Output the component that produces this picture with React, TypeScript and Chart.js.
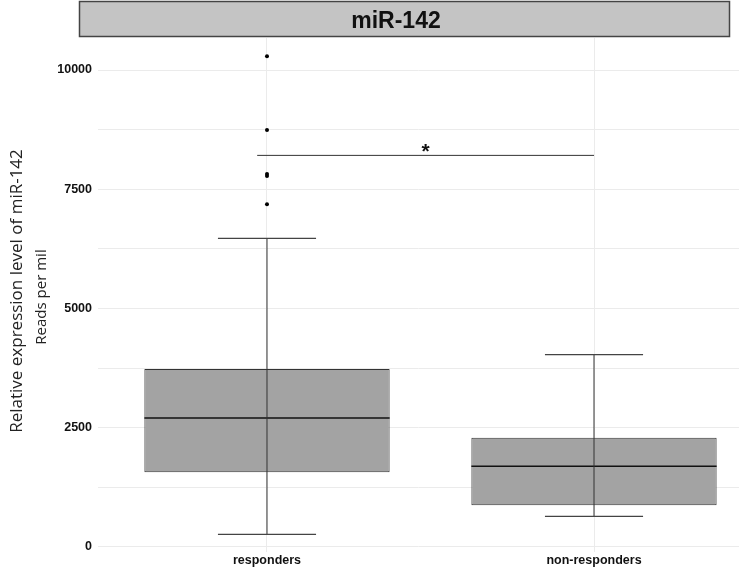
import React, { useEffect, useRef } from "react";
import { Chart, registerables } from "chart.js";

Chart.register(...registerables);

// ---- data ----
const categories = ["responders", "non-responders"];
const whiskerLow = [266, 643];
const q1 = [1566, 874];
const median = [2704, 1691];
const q3 = [3731, 2291];
const whiskerHigh = [6470, 4031];
const outliersResponders = [10291, 8740, 7818, 7776, 7183];
const outliersNonResponders: number[] = [];
const yTickValues = [0, 1250, 2500, 3750, 5000, 6250, 7500, 8750, 10000];
const yLabelStep = 2500;
const sigBarY = 8210;
const sigFrom = -0.03;
const sigTo = 1.0;
const sigLabel = "*";
const panelTitle = "miR-142";
const yTitle = "Relative expression level of miR-142";
const ySubTitle = "Reads per mil";

const extrasPlugin = {
  id: "boxExtras",
  beforeDraw(chart: any) {
    const ctx = chart.ctx;
    ctx.save();
    // facet strip
    ctx.fillStyle = "#c4c4c4";
    ctx.fillRect(79.5, 1.5, 650, 35);
    ctx.strokeStyle = "#444";
    ctx.lineWidth = 1.5;
    ctx.strokeRect(79.5, 1.5, 650, 35);
    ctx.fillStyle = "#111";
    ctx.font = "bold 23px 'Liberation Sans', Arial, sans-serif";
    ctx.textAlign = "center";
    ctx.textBaseline = "alphabetic";
    ctx.fillText(panelTitle, 396, 28);
    // y titles
    ctx.fillStyle = "#222";
    ctx.translate(17, 291);
    ctx.rotate(-Math.PI / 2);
    ctx.textBaseline = "middle";
    ctx.font = "17px 'Open Sans', sans-serif";
    ctx.fillText(yTitle, 0, 0);
    ctx.font = "15px 'Open Sans', sans-serif";
    ctx.fillText(ySubTitle, -6, 25);
    ctx.restore();
  },
  afterDatasetsDraw(chart: any) {
    const ctx = chart.ctx;
    const xs = chart.scales.x;
    const ys = chart.scales.y;
    ctx.save();
    for (let i = 0; i < categories.length; i++) {
      const cx = xs.getPixelForValue(i);
      const halfBox = (xs.getPixelForValue(i + 0.375) - xs.getPixelForValue(i - 0.375)) / 2;
      const halfCap = (xs.getPixelForValue(i + 0.15) - xs.getPixelForValue(i - 0.15)) / 2;
      // median
      ctx.strokeStyle = "#111";
      ctx.lineWidth = 1.5;
      ctx.beginPath();
      ctx.moveTo(cx - halfBox, ys.getPixelForValue(median[i]));
      ctx.lineTo(cx + halfBox, ys.getPixelForValue(median[i]));
      ctx.stroke();
      // whisker line
      ctx.strokeStyle = "#333";
      ctx.lineWidth = 1;
      ctx.beginPath();
      ctx.moveTo(cx, ys.getPixelForValue(whiskerLow[i]));
      ctx.lineTo(cx, ys.getPixelForValue(whiskerHigh[i]));
      ctx.stroke();
      // caps
      ctx.strokeStyle = "#444";
      ctx.lineWidth = 1.3;
      for (const v of [whiskerLow[i], whiskerHigh[i]]) {
        const y = ys.getPixelForValue(v);
        ctx.beginPath();
        ctx.moveTo(cx - halfCap, y);
        ctx.lineTo(cx + halfCap, y);
        ctx.stroke();
      }
    }
    // significance bar
    const sy = ys.getPixelForValue(sigBarY);
    ctx.strokeStyle = "#333";
    ctx.lineWidth = 1;
    ctx.beginPath();
    ctx.moveTo(xs.getPixelForValue(sigFrom), sy);
    ctx.lineTo(xs.getPixelForValue(sigTo), sy);
    ctx.stroke();
    ctx.fillStyle = "#111";
    ctx.font = "bold 21px 'Liberation Sans', Arial, sans-serif";
    ctx.textAlign = "center";
    ctx.textBaseline = "alphabetic";
    ctx.fillText(sigLabel, xs.getPixelForValue((sigFrom + sigTo) / 2), sy + 3);
    ctx.restore();
  },
};

export default function App() {
  const ref = useRef<HTMLCanvasElement>(null);
  useEffect(() => {
    if (!ref.current) return;
    const outlierPoints = [
      ...outliersResponders.map((v) => ({ x: 0, y: v })),
      ...outliersNonResponders.map((v) => ({ x: 1, y: v })),
    ];
    const chart = new Chart(ref.current, {
      type: "scatter",
      data: {
        datasets: [
          {
            type: "bar",
            data: categories.map((_, i) => ({ x: i, y: [q1[i], q3[i]] })) as any,
            backgroundColor: "#a3a3a3",
            borderColor: "#333",
            borderWidth: 1,
            borderSkipped: false,
            barPercentage: 0.75,
            categoryPercentage: 1,
            order: 2,
          } as any,
          {
            type: "scatter",
            data: outlierPoints,
            pointRadius: 2,
            pointBackgroundColor: "#000",
            pointBorderWidth: 0,
            order: 1,
          } as any,
        ],
      },
      options: {
        animation: false,
        responsive: false,
        maintainAspectRatio: false,
        layout: { autoPadding: false, padding: { top: 38, right: 0, left: 0, bottom: 0 } },
        plugins: { legend: { display: false }, tooltip: { enabled: false }, title: { display: false } },
        scales: {
          x: {
            type: "linear",
            min: -0.5168,
            max: 1.4434,
            offset: false,
            border: { display: false },
            grid: { color: "#ebebeb", lineWidth: 1, drawTicks: false, offset: false },
            afterBuildTicks: (s: any) => {
              s.ticks = categories.map((_, i) => ({ value: i }));
            },
            afterFit: (s: any) => {
              s.height = 24;
              s.paddingLeft = 0;
              s.paddingRight = 0;
            },
            ticks: {
              autoSkip: false,
              maxRotation: 0,
              padding: 1,
              color: "#111",
              font: { family: "'Liberation Sans', Arial, sans-serif", size: 12.5, weight: "bold" },
              callback: (v: any) => categories[Math.round(Number(v))] ?? "",
            },
          },
          y: {
            type: "linear",
            min: -105,
            max: 10671,
            border: { display: false },
            grid: { color: "#ebebeb", lineWidth: 1, drawTicks: false },
            afterBuildTicks: (s: any) => {
              s.ticks = yTickValues.map((v) => ({ value: v }));
            },
            afterFit: (s: any) => {
              s.width = 98;
              s.paddingTop = 0;
              s.paddingBottom = 0;
            },
            ticks: {
              autoSkip: false,
              padding: 6,
              color: "#111",
              font: { family: "'Liberation Sans', Arial, sans-serif", size: 12.5, weight: "bold" },
              callback: (v: any) => (Number(v) % yLabelStep === 0 ? String(v) : ""),
            },
          },
        },
      },
      plugins: [extrasPlugin],
    });
    return () => chart.destroy();
  }, []);
  return (
    <div style={{ position: "absolute", left: 0, top: 0, width: 739, height: 576, background: "#fff" }}>
      <canvas ref={ref} width={739} height={576} style={{ display: "block" }} />
    </div>
  );
}
